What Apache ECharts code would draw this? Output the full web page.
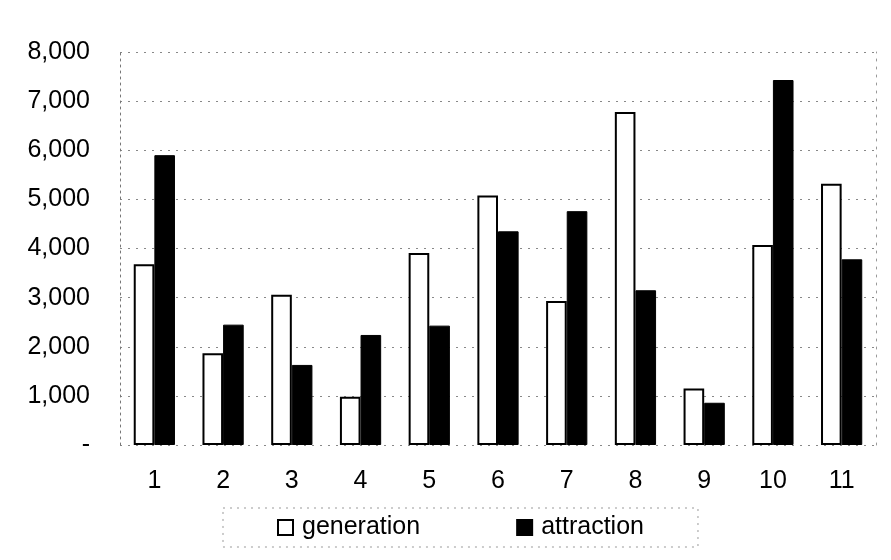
<!DOCTYPE html>
<html>
<head>
<meta charset="utf-8">
<script src="https://cdn.jsdelivr.net/npm/echarts@6/dist/echarts.min.js"></script>
<style>
html,body{margin:0;padding:0;background:#fff;}
#chart{width:891px;height:560px;}
</style>
</head>
<body>
<div id="chart"></div>
<script>
const categories = ['1','2','3','4','5','6','7','8','9','10','11'];
const generation = [3680, 1870, 3060, 980, 3910, 5080, 2930, 6780, 1150, 4070, 5320];
const attraction = [5900, 2450, 1630, 2240, 2430, 4350, 4760, 3150, 860, 7430, 3780];
const seriesNames = ['generation', 'attraction'];

const chart = echarts.init(document.getElementById('chart'));
const font = 'Liberation Sans, Arial, sans-serif';
chart.setOption({
  animation: false,
  backgroundColor: '#fff',
  grid: { left: 120, right: 15, top: 52, bottom: 115 },
  legend: {
    data: seriesNames,
    left: 223,
    top: 508,
    padding: [7, 54, 7, 54],
    itemGap: 96,
    itemWidth: 15,
    itemHeight: 15,
    borderColor: '#999',
    borderWidth: 1,
    borderType: [2, 5],
    textStyle: { fontFamily: font, fontSize: 25, color: '#000', padding: [0, 0, 0, 4] },
    icon: 'rect'
  },
  xAxis: {
    type: 'category',
    data: categories,
    axisLine: { show: false },
    axisTick: { show: false },
    axisLabel: { fontFamily: font, fontSize: 25, color: '#000', margin: 24 }
  },
  yAxis: [{
    type: 'value',
    min: 0, max: 8000, interval: 1000,
    axisLine: { show: true, lineStyle: { color: '#777', type: [2, 4], width: 1 } },
    axisTick: { show: false },
    splitLine: { show: true, lineStyle: { color: '#888', type: [2, 6], width: 1 } },
    axisLabel: {
      fontFamily: font, fontSize: 25, color: '#000', margin: 30,
      formatter: v => v === 0 ? '-' : v.toLocaleString('en-US')
    }
  }, {
    type: 'value',
    position: 'right',
    min: 0, max: 8000, interval: 1000,
    axisLine: { show: true, lineStyle: { color: '#999', type: [2, 6], width: 1 } },
    axisTick: { show: false },
    splitLine: { show: false },
    axisLabel: { show: false }
  }],
  series: [{
    name: seriesNames[0],
    type: 'bar',
    data: generation,
    barGap: '0%',
    barCategoryGap: '40%',
    itemStyle: { color: '#fff', borderColor: '#000', borderWidth: 2 }
  }, {
    name: seriesNames[1],
    type: 'bar',
    data: attraction,
    barGap: '0%',
    barCategoryGap: '40%',
    itemStyle: { color: '#000', borderColor: '#000', borderWidth: 1 }
  }]
});
</script>
</body>
</html>
